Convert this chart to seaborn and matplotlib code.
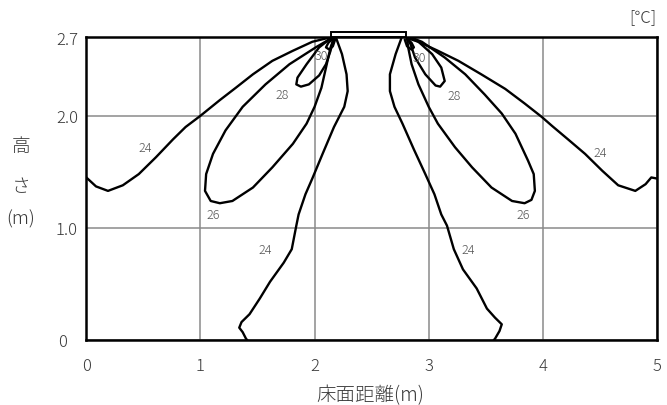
import numpy as np
import pandas as pd
import matplotlib
matplotlib.use('Agg')
import matplotlib.pyplot as plt
import matplotlib.transforms as mtransforms
from matplotlib.patches import Rectangle
import seaborn as sns

sns.set_style('white')
plt.rcParams['font.family'] = ['Noto Sans CJK JP', 'DejaVu Sans']

# isotherm traces (floor distance m, height m)
outer24_left_x = [0.00, 0.085, 0.19, 0.32, 0.46, 0.61, 0.76, 0.87, 1.00, 1.17, 1.31, 1.46, 1.63, 1.81, 1.98, 2.10, 2.14]
outer24_left_y = [1.45, 1.37, 1.33, 1.38, 1.48, 1.63, 1.79, 1.90, 2.00, 2.14, 2.25, 2.37, 2.49, 2.58, 2.66, 2.69, 2.70]
outer24_right_x = [5.00, 4.95, 4.90, 4.81, 4.66, 4.52, 4.37, 4.22, 4.08, 3.99, 3.84, 3.67, 3.46, 3.26, 3.08, 2.91, 2.82, 2.80]
outer24_right_y = [1.44, 1.45, 1.39, 1.33, 1.38, 1.51, 1.66, 1.79, 1.91, 1.99, 2.11, 2.24, 2.37, 2.49, 2.58, 2.66, 2.69, 2.70]

loop26_left_x = [2.16, 2.01, 1.78, 1.57, 1.37, 1.22, 1.11, 1.05, 1.04, 1.09, 1.17, 1.28, 1.46, 1.63, 1.81, 1.93, 2.00, 2.06, 2.10, 2.14, 2.17]
loop26_left_y = [2.70, 2.61, 2.46, 2.28, 2.08, 1.87, 1.66, 1.48, 1.33, 1.24, 1.22, 1.24, 1.36, 1.54, 1.75, 1.93, 2.08, 2.25, 2.43, 2.61, 2.69]
loop26_right_x = [2.84, 2.94, 3.14, 3.32, 3.49, 3.64, 3.76, 3.87, 3.92, 3.93, 3.90, 3.84, 3.73, 3.55, 3.38, 3.23, 3.08, 3.00, 2.91, 2.85, 2.82, 2.81]
loop26_right_y = [2.70, 2.66, 2.52, 2.37, 2.19, 2.02, 1.84, 1.60, 1.48, 1.33, 1.25, 1.22, 1.24, 1.36, 1.54, 1.72, 1.93, 2.08, 2.28, 2.46, 2.61, 2.69]

loop28_left_x = [2.14, 2.04, 1.93, 1.85, 1.84, 1.88, 1.95, 2.04, 2.10, 2.14, 2.16]
loop28_left_y = [2.69, 2.61, 2.46, 2.34, 2.28, 2.26, 2.28, 2.36, 2.46, 2.58, 2.67]
loop28_right_x = [2.81, 2.84, 2.88, 2.97, 3.06, 3.10, 3.14, 3.11, 3.03, 2.91, 2.83]
loop28_right_y = [2.69, 2.64, 2.52, 2.37, 2.27, 2.26, 2.31, 2.43, 2.55, 2.66, 2.70]

loop30_left_x = [2.16, 2.12, 2.10, 2.13, 2.16, 2.18]
loop30_left_y = [2.69, 2.65, 2.61, 2.59, 2.62, 2.68]
loop30_right_x = [2.81, 2.85, 2.87, 2.85, 2.81, 2.79]
loop30_right_y = [2.69, 2.65, 2.61, 2.59, 2.62, 2.68]

inner24_left_x = [2.19, 2.24, 2.28, 2.29, 2.26, 2.17, 2.07, 1.98, 1.92, 1.86, 1.84, 1.80, 1.73, 1.61, 1.52, 1.43, 1.36, 1.34, 1.37, 1.40, 1.41]
inner24_left_y = [2.69, 2.55, 2.37, 2.22, 2.08, 1.90, 1.66, 1.44, 1.30, 1.12, 1.02, 0.81, 0.69, 0.52, 0.37, 0.23, 0.16, 0.11, 0.07, 0.01, 0.00]
inner24_right_x = [2.76, 2.71, 2.66, 2.66, 2.70, 2.77, 2.87, 2.97, 3.05, 3.11, 3.16, 3.22, 3.30, 3.42, 3.51, 3.58, 3.64, 3.62, 3.58, 3.57]
inner24_right_y = [2.69, 2.55, 2.37, 2.22, 2.08, 1.93, 1.70, 1.48, 1.30, 1.12, 1.02, 0.81, 0.63, 0.46, 0.28, 0.20, 0.14, 0.08, 0.01, 0.00]

label_text = ['30', '28', '24', '26', '24', '30', '28', '24', '26', '24']
label_x = [2.06, 1.72, 0.52, 1.11, 1.57, 2.92, 3.22, 4.50, 3.83, 3.35]
label_y = [2.54, 2.19, 1.72, 1.12, 0.81, 2.52, 2.18, 1.67, 1.12, 0.81]

outlet_x = [2.14, 2.80]
outlet_y = [2.70, 2.75]

x_ticks = [0, 1, 2, 3, 4, 5]
y_ticks = [0, 1.0, 2.0, 2.7]
y_ticklabels = ['0', '1.0', '2.0', '2.7']

lines = {
    'o24L': (outer24_left_x, outer24_left_y), 'o24R': (outer24_right_x, outer24_right_y),
    'l26L': (loop26_left_x, loop26_left_y), 'l26R': (loop26_right_x, loop26_right_y),
    'l28L': (loop28_left_x, loop28_left_y), 'l28R': (loop28_right_x, loop28_right_y),
    'l30L': (loop30_left_x, loop30_left_y), 'l30R': (loop30_right_x, loop30_right_y),
    'i24L': (inner24_left_x, inner24_left_y), 'i24R': (inner24_right_x, inner24_right_y),
}
df = pd.concat([pd.DataFrame({'x': xs, 'y': ys, 'line': k}) for k, (xs, ys) in lines.items()],
               ignore_index=True)

fig = plt.figure(figsize=(6.67, 4.06), dpi=100)
ax = fig.add_axes([86.3 / 667, 65 / 406, 570.7 / 667, 302.7 / 406])

sns.lineplot(data=df, x='x', y='y', units='line', estimator=None, sort=False,
             color='black', lw=1.7, ax=ax, legend=False)

for t, x, y in zip(label_text, label_x, label_y):
    ax.text(x, y, t, fontsize=9, color='#555555', ha='center', va='center', fontweight='light')

ax.add_patch(Rectangle((outlet_x[0], outlet_y[0]), outlet_x[1] - outlet_x[0], outlet_y[1] - outlet_y[0],
                       facecolor='white', edgecolor='black', lw=1.4, clip_on=False, zorder=5))

ax.set_xlim(0, 5)
ax.set_ylim(0, 2.7)
ax.set_xticks(x_ticks)
ax.set_yticks(y_ticks)
ax.set_yticklabels(y_ticklabels)
ax.grid(True, color='#8a8a8a', lw=1.1)
ax.tick_params(length=0, labelsize=12, labelcolor='#3a3a3a')
ax.tick_params(axis='x', pad=12)
ax.tick_params(axis='y', pad=6)
for lbl in ax.get_xticklabels() + ax.get_yticklabels():
    lbl.set_fontweight('light')
ax.set_xlabel('')
ax.set_ylabel('')
for s in ax.spines.values():
    s.set_color('black')
    s.set_linewidth(1.8)

# the "0" on the height axis sits a bit further left
lbl0 = ax.get_yticklabels()[0]
lbl0.set_transform(lbl0.get_transform() + mtransforms.ScaledTranslation(-8 / 72, 0, fig.dpi_scale_trans))

txt = dict(color='#3a3a3a', ha='center', va='center', fontweight='light')
fig.text(370 / 667, 1 - 396 / 406, '床面距離(m)', fontsize=14, **txt)
fig.text(21 / 667, 1 - 147 / 406, '高', fontsize=13.5, **txt)
fig.text(21 / 667, 1 - 187 / 406, 'さ', fontsize=13.5, **txt)
fig.text(21 / 667, 1 - 219 / 406, '(m)', fontsize=13.5, **txt)
fig.text(656 / 667, 1 - 18 / 406, '[℃]', fontsize=12, color='#3a3a3a', ha='right', va='center',
         fontweight='light')

plt.savefig('out.png', dpi=100)
